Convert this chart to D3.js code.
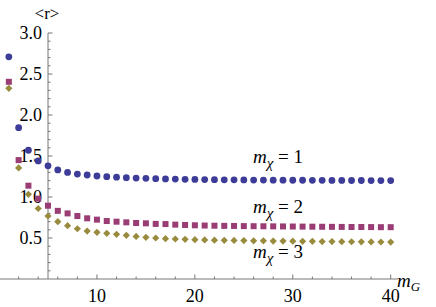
<!DOCTYPE html>
<html><head><meta charset="utf-8">
<script src="https://cdn.jsdelivr.net/npm/d3@7"></script>
</head><body style="margin:0">
<svg id="c" width="436" height="307"></svg>
<script>
const mG = d3.range(1, 41);
const r1 = [2.71,1.845,1.57,1.44,1.38,1.33,1.30,1.28,1.268,1.256,1.248,1.242,1.236,1.231,1.228,1.224,1.221,1.219,1.216,1.214,1.212,1.211,1.210,1.209,1.208,1.207,1.206,1.205,1.205,1.204,1.204,1.203,1.203,1.202,1.202,1.201,1.201,1.200,1.200,1.200];
const r2 = [2.405,1.45,1.138,0.98,0.894,0.831,0.80,0.768,0.74,0.724,0.707,0.699,0.691,0.683,0.679,0.672,0.670,0.663,0.659,0.655,0.652,0.650,0.648,0.647,0.645,0.644,0.643,0.642,0.641,0.640,0.639,0.638,0.637,0.636,0.635,0.634,0.634,0.633,0.632,0.632];
const r3 = [2.325,1.354,1.033,0.86,0.768,0.699,0.65,0.613,0.585,0.569,0.557,0.545,0.533,0.519,0.508,0.500,0.492,0.488,0.484,0.480,0.476,0.474,0.472,0.470,0.468,0.466,0.465,0.463,0.462,0.461,0.460,0.459,0.457,0.456,0.455,0.454,0.453,0.452,0.451,0.450];
const yMajor = [0.5,1.0,1.5,2.0,2.5,3.0];
const xMajor = [10,20,30,40];
const labels = [{t:"1", y:1.42},{t:"2", y:0.80},{t:"3", y:0.26}];
const colors = ["#3d3d99","#993d74","#998b3d"];
const FONT = "'Liberation Serif'";

const svg = d3.select("#c");
const x = d3.scaleLinear().domain([5,40]).range([48, 390.7]);
const y = d3.scaleLinear().domain([0,3]).range([279, 33]);
const axisCol = "#777";

// x axis
const x0 = x.invert(0), x1 = x.invert(398);
svg.append("line").attr("x1",x(x0)).attr("x2",x(x1)).attr("y1",y(0)).attr("y2",y(0)).attr("stroke",axisCol).attr("stroke-width",1);
const xMinor = d3.range(2, 41, 2).filter(v => !xMajor.includes(v));
svg.selectAll(".xmin").data(xMinor).enter().append("line")
  .attr("x1",d=>x(d)).attr("x2",d=>x(d)).attr("y1",y(0)).attr("y2",y(0)-2.5).attr("stroke",axisCol);
svg.selectAll(".xmaj").data(xMajor).enter().append("line")
  .attr("x1",d=>x(d)).attr("x2",d=>x(d)).attr("y1",y(0)).attr("y2",y(0)-4.5).attr("stroke",axisCol);
svg.selectAll(".xl").data(xMajor).enter().append("text")
  .attr("x",d=>x(d)).attr("y",302).attr("text-anchor","middle")
  .style("font-family",FONT).style("font-size","18px").text(d=>d);

// y axis
svg.append("line").attr("x1",x(5)).attr("x2",x(5)).attr("y1",y(0)).attr("y2",y(3)).attr("stroke",axisCol);
const yMinor = d3.range(1, 30).map(v => v/10).filter(v => Math.abs(v*2 - Math.round(v*2)) > 1e-6);
svg.selectAll(".ymin").data(yMinor).enter().append("line")
  .attr("x1",x(5)).attr("x2",x(5)+2.5).attr("y1",d=>y(d)).attr("y2",d=>y(d)).attr("stroke",axisCol);
svg.selectAll(".ymaj").data(yMajor).enter().append("line")
  .attr("x1",x(5)).attr("x2",x(5)+4.5).attr("y1",d=>y(d)).attr("y2",d=>y(d)).attr("stroke",axisCol);
svg.selectAll(".yl").data(yMajor).enter().append("text")
  .attr("x",42).attr("y",d=>y(d)+6).attr("text-anchor","end")
  .style("font-family",FONT).style("font-size","18px").text(d=>d.toFixed(1));
svg.append("text").attr("x",x(5)-1).attr("y",19).attr("text-anchor","middle")
  .style("font-family",FONT).style("font-size","17px").text("<r>");

// markers
const g = svg.append("g");
g.selectAll(".c1").data(mG).enter().append("circle")
  .attr("cx",d=>x(d)).attr("cy",(d,i)=>y(r1[i])).attr("r",3.4).attr("fill",colors[0]);
g.selectAll(".c2").data(mG).enter().append("rect")
  .attr("x",d=>x(d)-3).attr("y",(d,i)=>y(r2[i])-3).attr("width",6).attr("height",6).attr("fill",colors[1]);
g.selectAll(".c3").data(mG).enter().append("path")
  .attr("transform",(d,i)=>`translate(${x(d)},${y(r3[i])})`)
  .attr("d","M0,-3.6L3.6,0L0,3.6L-3.6,0Z").attr("fill",colors[2]);

// series labels
labels.forEach(l => {
  const t = svg.append("text").attr("x", 253).attr("y", y(l.y))
    .style("font-family",FONT).style("font-size","19px");
  t.append("tspan").style("font-style","italic").text("m");
  t.append("tspan").style("font-style","italic").style("font-size","15px").attr("dy",5).text("χ");
  t.append("tspan").attr("dy",-5).text(" = " + l.t);
});
// x label
const xl = svg.append("text").attr("x",397).attr("y",287)
  .style("font-family",FONT).style("font-size","19px");
xl.append("tspan").style("font-style","italic").text("m");
xl.append("tspan").style("font-style","italic").style("font-size","13px").attr("dy",4).text("G");
</script></body></html>
